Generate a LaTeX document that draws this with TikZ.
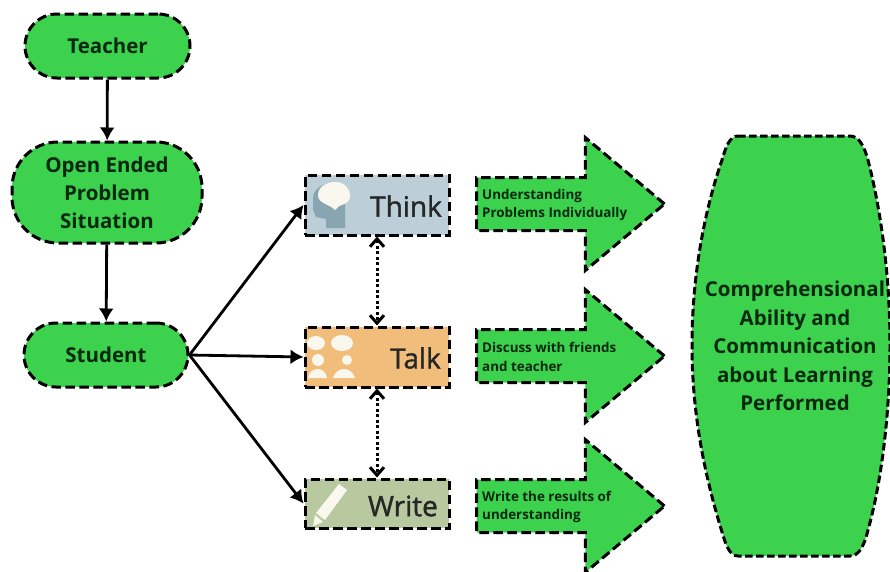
\documentclass[tikz,border=0pt]{standalone}
\usepackage{fontspec}
\setmainfont{Open Sans}
\newfontfamily\stagefont[FakeBold=1.3]{Open Sans}
\definecolor{boxgreen}{RGB}{60,210,78}
\definecolor{thinkblue}{RGB}{188,207,217}
\definecolor{talkorange}{RGB}{240,190,122}
\definecolor{writegreen}{RGB}{184,201,160}
\definecolor{headgrey}{RGB}{137,165,177}
\definecolor{inkgreen}{RGB}{6,40,14}
\definecolor{paleicon}{RGB}{250,247,238}
\usetikzlibrary{shapes.arrows,arrows.meta}
\tikzset{
    dashline/.style={draw=black, line width=3pt, dash pattern=on 9.5pt off 4.5pt},
    pillbox/.style={dashline, fill=boxgreen, text=inkgreen, font=\bfseries\fontsize{20.5}{28}\selectfont,
        align=center, inner sep=0pt, rounded corners=#1},
    stagebox/.style={dashline, inner sep=0pt, minimum width=144pt},
    stagetext/.style={anchor=east, inner sep=0pt, text=black!85, font=\stagefont\fontsize{28}{30}\selectfont},
    bigarrow/.style={dashline, fill=boxgreen, single arrow, single arrow head extend=40pt,
        single arrow head indent=0pt, single arrow tip angle=80, minimum width=130pt, minimum height=188pt,
        inner sep=25pt, anchor=tail},
    arrowtext/.style={anchor=west, align=left, inner sep=0pt, text=inkgreen,
        font=\bfseries\fontsize{13.4}{18.5}\selectfont},
    flowline/.style={line width=2.8pt, -{Latex[length=13pt,width=15pt]}},
    talkline/.style={line width=3pt, dash pattern=on 3pt off 2.5pt, {Straight Barb[length=8pt,width=14pt]}-{Straight Barb[length=8pt,width=14pt]}}
}
\begin{document}
\begin{tikzpicture}[x=1pt,y=-1pt]
    \useasboundingbox (0,0) rectangle (890,571);
    % Left column
    \node[pillbox=32pt, minimum width=165pt, minimum height=64pt] (teacher) at (107.5,46) {Teacher};
    \node[pillbox=46pt, minimum width=190pt, minimum height=101pt] (problem) at (107,192.5)
        {Open Ended\\Problem\\Situation};
    \node[pillbox=32pt, minimum width=164pt, minimum height=64pt] (student) at (106,355) {Student};
    \draw[flowline] (teacher) -- (problem);
    \draw[flowline] (problem) -- (student);

    % Stages
    \node[stagebox, fill=thinkblue, minimum height=60pt] (think) at (377,205) {};
    \node[stagebox, fill=talkorange, minimum height=60pt] (talk) at (377,357) {};
    \node[stagebox, fill=writegreen, minimum height=49pt] (write) at (377,503.5) {};

    % Head icon
    \fill[headgrey] (326,228) -- (326,219) -- (316,217) -- (313,210) -- (313,198)
        .. controls (313,188) and (325,183) .. (333,183)
        .. controls (342,183) and (346,192) .. (345,202) -- (345,228) -- cycle;
    \fill[paleicon] (335,210) .. controls (330,204) and (318,204) .. (318,195)
        .. controls (318,186) and (328,182) .. (335,182) .. controls (344,182) and (350,188) .. (350,196)
        .. controls (350,203) and (342,205) .. (339,206) -- cycle;
    % People icon
    \fill[paleicon] (316,343) ellipse (9pt and 7pt);
    \fill[paleicon] (342,343) ellipse (11pt and 8pt);
    \fill[paleicon] (318,360) circle (6pt);
    \fill[paleicon] (347,360) circle (5pt);
    \fill[paleicon] (308,378) .. controls (310,366) and (325,366) .. (327,378) -- cycle;
    \fill[paleicon] (333,378) .. controls (337,366) and (351,366) .. (355,378) -- cycle;
    % Pencil icon
    \fill[paleicon] (339,484) -- (347,490) -- (325,520) -- (316,513) -- cycle;
    \fill[paleicon] (315,515) -- (323,522) -- (313,526) -- cycle;

    \node[stagetext] (thinklabel) at (442,206) {Think};
    \node[stagetext] (talklabel) at (441,358) {Talk};
    \node[stagetext] (writelabel) at (438,506) {Write};

    \draw[flowline] (student.east) -- (think.west);
    \draw[flowline] (student.east) -- (talk.west);
    \draw[flowline] (student.east) -- (write.west);
    \draw[talkline] (think.south) -- (talk.north);
    \draw[talkline] (talk.south) -- (write.north);

    % Block arrows
    \foreach \name/\y/\first/\second in {one/204/Understanding/Problems Individually,
        two/356/Discuss with friends/and teacher, three/506/Write the results of/understanding} {
        \node[bigarrow] (arrow\name) at (475,\y) {};
        \node[arrowtext] (text\name) at (482,\y+1) {\first\\\second};
    }

    % Outcome
    \draw[dashline, dash pattern=on 7.5pt off 3.5pt, fill=boxgreen] (738,136) -- (850,136)
        .. controls (859,136) and (864,146) .. (868,160)
        .. controls (882,215) and (890,280) .. (890,345)
        .. controls (890,410) and (882,480) .. (868,530)
        .. controls (864,546) and (859,556) .. (850,556)
        -- (738,556)
        .. controls (730,556) and (726,546) .. (722,532)
        .. controls (703,470) and (692,410) .. (692,345)
        .. controls (692,280) and (703,215) .. (722,160)
        .. controls (726,146) and (730,136) .. (738,136) -- cycle;
    \node[align=center, inner sep=0pt, text=inkgreen, font=\bfseries\fontsize{20.5}{28.5}\selectfont]
        (outcome) at (795,346) {Comprehensional\\Ability and\\Communication\\about Learning\\Performed};
\end{tikzpicture}
\end{document}
